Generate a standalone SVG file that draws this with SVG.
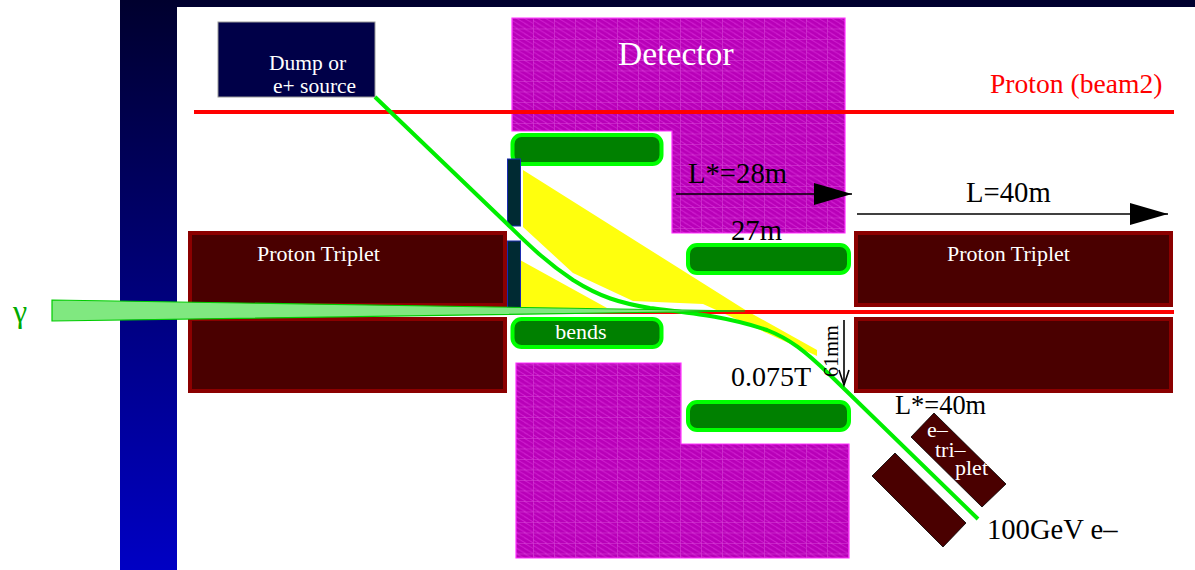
<svg xmlns="http://www.w3.org/2000/svg" width="1195" height="570" viewBox="0 0 1195 570">
<style>
text{font-family:"Liberation Serif","Times New Roman",serif}
.w{fill:#fff}.k{fill:#000}
.det{fill:url(#hatch);stroke:#ff33ff;stroke-width:1.2}
.trip{fill:#4a0000;stroke:#8b0000;stroke-width:4}
.pill{fill:#008000;stroke:#00ff00;stroke-width:4}
.blk{fill:#002a33;stroke:#1a2bb0;stroke-width:1}
.etr{fill:#4a0000;stroke:#000;stroke-width:.8}
.yl{fill:#ffff0d}
.red{stroke:#ff0000;stroke-width:4;fill:none}
.arr{stroke:#000;stroke-width:1.6;fill:none}
</style>
<defs>
<linearGradient id="bg" x1="0" y1="0" x2="0" y2="1"><stop offset="0" stop-color="#00002e"/><stop offset="1" stop-color="#0000c4"/></linearGradient>
<pattern id="hatch" patternUnits="userSpaceOnUse" x="512" y="18" width="21" height="10.5">
<rect width="21" height="10.5" fill="#b800b8"/>
<path d="M-4 0L8 7M4 0L16 7M12 0L24 7M-4 5L8 12M4 5L16 12M12 5L24 12" stroke="#d020d0" stroke-width="1"/>
<path d="M0 0V10.5M0 0H21" stroke="#d84cd8" stroke-width="1"/>
</pattern>
<marker id="big" markerUnits="userSpaceOnUse" markerWidth="38" markerHeight="22" refX="38" refY="11" orient="auto"><path d="M0 0L38 11L0 22Z" fill="#000"/></marker>
<marker id="thin" markerUnits="userSpaceOnUse" markerWidth="12" markerHeight="16" refX="6" refY="15" orient="auto-start-reverse"><path d="M1 2L6 15L11 2" fill="none" stroke="#000" stroke-width="1.4" transform="rotate(-90 6 15) translate(0 0)"/></marker>
</defs>

<rect id="background" x="120" y="0" width="1075" height="570" fill="url(#bg)"/>
<rect id="panel" x="177" y="7" width="1018" height="563" fill="#fff"/>

<g id="detector-top"><path class="det" d="M512 18H845V233H672V131H512Z"/><text class="w" x="618" y="65" font-size="33.6">Detector</text></g>
<g id="detector-bottom"><path class="det" d="M516 363H681V444H849V558H516Z"/></g>

<g id="dump"><rect x="218" y="22" width="157" height="75" fill="#000048" stroke="#999" stroke-width="1"/><text class="w" x="269" y="70" font-size="21.5">Dump or</text><text class="w" x="273" y="93" font-size="21.5">e+ source</text></g>

<g id="triplet-left-top"><rect class="trip" x="190" y="233" width="315" height="72"/><text class="w" x="257" y="261" font-size="22">Proton Triplet</text></g>
<g id="triplet-left-bottom"><rect class="trip" x="190" y="319" width="315" height="72"/></g>
<g id="triplet-right-top"><rect class="trip" x="856" y="233" width="315" height="72"/><text class="w" x="947" y="261" font-size="22">Proton Triplet</text></g>
<g id="triplet-right-bottom"><rect class="trip" x="856" y="319" width="315" height="72"/></g>

<g id="bend-1"><rect class="pill" x="512.500" y="135" width="149" height="29" rx="9"/></g>
<g id="bend-2"><rect class="pill" x="688" y="245" width="161" height="28" rx="9"/></g>
<g id="bend-3"><rect class="pill" x="512.500" y="319" width="149" height="28" rx="9"/><text class="w" x="581" y="339" font-size="22" text-anchor="middle">bends</text></g>
<g id="bend-4"><rect class="pill" x="688" y="402" width="161" height="28" rx="9"/></g>

<g id="fan">
<path class="yl" d="M523 170L747 311L817 350V356L703 304L633 301L573 273L523 227Z"/>
<path class="yl" d="M520 260L607 308L520 308Z"/>
</g>
<g id="absorber"><rect class="blk" x="507.500" y="159" width="13" height="67"/><rect class="blk" x="507.500" y="241" width="13" height="67"/></g>

<g id="etriplet-upper"><path class="etr" d="M934 413L1006 484L982 507L911 437Z"/><text class="w" x="927" y="437" font-size="22">e–</text><text class="w" x="935" y="457" font-size="22">tri–</text><text class="w" x="955" y="475" font-size="22">plet</text></g>
<g id="etriplet-lower"><path class="etr" d="M895 453L966 523L943 547L872 476Z"/></g>

<g id="connectors">
<path class="red" d="M194 112H1174"/>
<path class="red" d="M507 312H1174"/>
<path d="M375 97L500 217C520 236 540 258 573 280C600 297 620 303 650 308C690 313 725 316 767 330C790 339 805 351 830 375L978 519" fill="none" stroke="#00ee00" stroke-width="4"/>
<path d="M52 300L745 311L52 321Z" fill="#80e880" stroke="#00cc00" stroke-width="1.200"/>
<path class="arr" d="M676 194H852" marker-end="url(#big)"/>
<path class="arr" d="M857 214H1168" marker-end="url(#big)"/>
<path class="arr" d="M844 320V385"/>
<path class="arr" d="M839 370L844 385L849 370"/>
</g>

<g id="labels">
<text x="990" y="93" font-size="27.600" fill="#ff0000">Proton (beam2)</text>
<text class="k" x="688" y="183" font-size="28.700">L*=28m</text>
<text class="k" x="966" y="202" font-size="28.700">L=40m</text>
<text class="k" x="731" y="240" font-size="28.700">27m</text>
<text class="k" x="731" y="386" font-size="28">0.075T</text>
<text class="k" font-size="20.300" transform="translate(838 377) rotate(-90)">61mm</text>
<text class="k" x="895" y="414" font-size="26.400">L*=40m</text>
<text class="k" x="987" y="539" font-size="28.600">100GeV e–</text>
<text x="13" y="322" font-size="32" fill="#00aa00">γ</text>
</g>
</svg>
